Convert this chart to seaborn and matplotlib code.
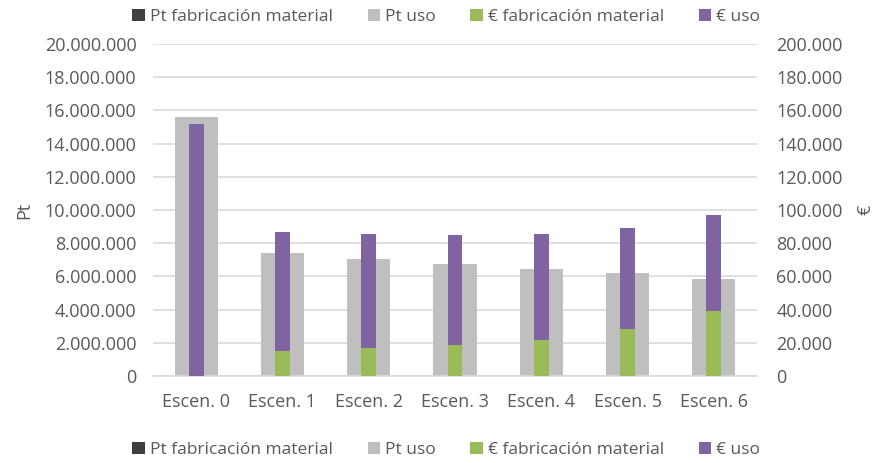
import matplotlib
matplotlib.use("Agg")
import matplotlib.pyplot as plt
import matplotlib.ticker as mticker
from matplotlib.patches import Patch
import numpy as np
import pandas as pd
import seaborn as sns

# Data
escenarios = ["Escen. 0", "Escen. 1", "Escen. 2", "Escen. 3", "Escen. 4", "Escen. 5", "Escen. 6"]
pt_fabricacion = [0, 0, 0, 0, 0, 0, 0]
pt_uso = [15580000, 7390000, 7050000, 6730000, 6450000, 6190000, 5830000]
eur_fabricacion = [0, 15100, 17100, 18500, 21900, 28500, 39300]
eur_uso = [151800, 71600, 68200, 66200, 63400, 60500, 57700]

series_names = ["Pt fabricación material", "Pt uso", "€ fabricación material", "€ uso"]
colors = ["#404040", "#bfbfbf", "#9bbb59", "#8064a2"]

df = pd.DataFrame({
    "escenario": escenarios,
    "pt_fab": pt_fabricacion,
    "pt_uso": pt_uso,
    "eur_fab": eur_fabricacion,
    "eur_uso": eur_uso,
})
# stacked totals (bars drawn over each other from zero)
df["pt_total"] = df["pt_fab"] + df["pt_uso"]
df["eur_total"] = df["eur_fab"] + df["eur_uso"]

sns.set_theme(style="white")
plt.rcParams["font.family"] = ["Open Sans", "DejaVu Sans"]
text_col = "#595959"

fig = plt.figure(figsize=(8.75, 4.63), dpi=100)
ax = fig.add_axes([0.175, 0.188, 0.69, 0.717])
ax2 = ax.twinx()

# Pt on left axis: wide bars
sns.barplot(data=df, x="escenario", y="pt_total", color=colors[1], width=0.5,
            saturation=1, linewidth=0, ax=ax, zorder=2)
sns.barplot(data=df, x="escenario", y="pt_fab", color=colors[0], width=0.5,
            saturation=1, linewidth=0, ax=ax, zorder=2)

# € on right axis: narrow stacked bars
sns.barplot(data=df, x="escenario", y="eur_total", color=colors[3], width=0.17,
            saturation=1, linewidth=0, ax=ax2, zorder=3)
sns.barplot(data=df, x="escenario", y="eur_fab", color=colors[2], width=0.17,
            saturation=1, linewidth=0, ax=ax2, zorder=3)

ax.set_ylim(0, 20000000)
ax2.set_ylim(0, 200000)
ax.yaxis.set_major_locator(mticker.MultipleLocator(2000000))
ax2.yaxis.set_major_locator(mticker.MultipleLocator(20000))
fmt = mticker.FuncFormatter(lambda v, p: f"{v:,.0f}".replace(",", "."))
ax.yaxis.set_major_formatter(fmt)
ax2.yaxis.set_major_formatter(fmt)

ax.grid(axis="y", color="#d9d9d9", linewidth=1.2, zorder=0)
ax.set_axisbelow(True)
ax.set_xlim(-0.5, 6.5)

for a in (ax, ax2):
    for s in a.spines.values():
        s.set_visible(False)
    a.tick_params(length=0, labelsize=13, labelcolor=text_col)
ax.spines["bottom"].set_visible(True)
ax.spines["bottom"].set_color("#d9d9d9")
ax.spines["bottom"].set_linewidth(1.2)
ax.tick_params(axis="x", pad=12)
ax.tick_params(axis="y", pad=12)
ax2.tick_params(axis="y", pad=14)

ax.set_xlabel("")
ax.set_ylabel("Pt", fontsize=13, color=text_col, labelpad=8)
ax2.set_ylabel("€", fontsize=13, color=text_col, labelpad=10)

handles = [Patch(facecolor=c, edgecolor="none") for c in colors]
leg_kw = dict(ncol=4, frameon=False, fontsize=12.5, labelcolor=text_col,
              handlelength=0.7, handleheight=0.7, handletextpad=0.3, columnspacing=2.0)
fig.legend(handles, series_names, loc="center", bbox_to_anchor=(0.51, 0.963), **leg_kw)
fig.legend(handles, series_names, loc="center", bbox_to_anchor=(0.51, 0.028), **leg_kw)

fig.savefig("out.png", dpi=100)
